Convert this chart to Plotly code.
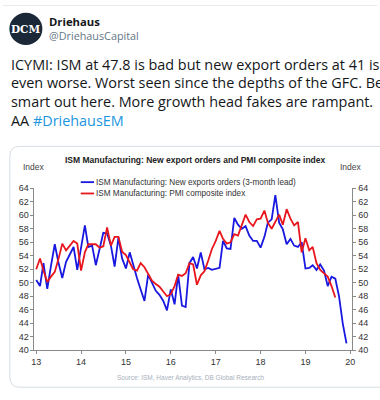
import plotly.graph_objects as go
import pandas as pd

W, H = 380, 400

# ---- data ----
months = pd.date_range("2013-01-01", periods=84, freq="MS")

export_orders_lead3 = [
    50.4, 49.5, 52.9, 49.1, 52.5, 55.7, 53.0, 50.7, 53.1, 54.2, 55.3, 51.9,
    55.2, 58.5, 55.3, 55.5, 52.6, 55.0, 57.4, 57.3, 55.5, 52.4, 56.7, 53.6,
    52.1, 54.5, 52.6, 50.7, 49.0, 47.3, 51.2, 50.0, 48.8, 48.2, 47.3, 45.9,
    49.0, 46.8, 51.2, 46.6, 46.4, 52.9, 53.8, 52.1, 54.5, 52.0, 52.2, 51.9,
    52.1, 52.2, 56.2, 55.1, 55.0, 59.6, 58.6, 58.0, 58.4, 57.0, 56.2, 56.2,
    55.2, 56.8, 58.9, 59.4, 63.0, 58.9, 57.9, 55.7, 56.5, 55.5, 55.3, 56.0,
    52.1, 52.2, 52.6, 51.9, 52.7, 51.8, 49.5, 50.9, 50.6, 48.0, 43.9, 41.0,
]

pmi_composite = [
    52.0, 53.6, 51.8, 50.1, 50.9, 51.6, 53.5, 55.8, 54.8, 55.5, 56.2, 55.8,
    51.8, 54.5, 55.7, 55.7, 55.7, 55.2, 55.4, 58.2, 55.5, 56.8, 56.8, 54.6,
    54.1, 53.0, 52.0, 51.8, 52.9, 52.3, 51.4, 50.3, 49.8, 49.4, 48.7, 48.0,
    48.3, 49.5, 51.2, 51.0, 51.4, 52.9, 52.7, 49.7, 51.1, 51.7, 53.3, 55.0,
    56.2, 57.7, 56.5, 55.8, 56.0, 57.2, 57.0, 58.6, 60.1, 59.0, 58.4, 59.4,
    59.5, 60.7, 58.9, 58.0, 59.0, 60.1, 58.6, 60.9, 59.5, 58.5, 59.0, 54.5,
    56.6, 54.8, 55.3, 52.9, 51.9, 51.4, 50.9, 49.5, 47.8,
]

year_ticks = pd.date_range("2013-01-01", periods=8, freq="YS")
year_labels = ["13", "14", "15", "16", "17", "18", "19", "20"]

series_names = [
    "ISM Manufacturing: New exports orders (3-month lead)",
    "ISM Manufacturing: PMI composite index",
]
BLUE = "#1818e0"
RED = "#e8161c"

tweet_lines = [
    "ICYMI: ISM at 47.8 is bad but new export orders at 41 is",
    "even worse. Worst seen since the depths of the GFC. Be",
    "smart out here. More growth head fakes are rampant.",
]

def px(x):
    return x / W

def py(y):
    return 1 - y / H

fig = go.Figure()
fig.add_trace(go.Scatter(x=months, y=export_orders_lead3, mode="lines",
                         line=dict(color=BLUE, width=1.8), yaxis="y",
                         name=series_names[0], showlegend=False))
fig.add_trace(go.Scatter(x=months[:len(pmi_composite)], y=pmi_composite, mode="lines",
                         line=dict(color=RED, width=1.8), yaxis="y2",
                         name=series_names[1], showlegend=False))

axis_font = dict(family="Liberation Sans, Arial", size=9, color="#333")
fig.update_layout(
    width=W, height=H,
    margin=dict(l=0, r=0, t=0, b=0),
    paper_bgcolor="white", plot_bgcolor="white",
    xaxis=dict(domain=[px(32), px(355)], type="date",
               range=["2012-12-18", "2020-01-18"],
               tickvals=year_ticks, ticktext=year_labels,
               showgrid=False, zeroline=False, showline=True, linecolor="#8a8a8a",
               linewidth=1, ticks="outside", ticklen=3, tickcolor="#8a8a8a",
               tickfont=axis_font, anchor="y"),
    yaxis=dict(domain=[py(354), py(188)], range=[40, 64], dtick=2,
               showgrid=False, zeroline=False, showline=True, linecolor="#8a8a8a",
               ticks="outside", ticklen=3, tickcolor="#8a8a8a", tickfont=axis_font),
    yaxis2=dict(domain=[py(354), py(188)], range=[40, 64], dtick=2, overlaying="y",
                side="right", anchor="x",
                showgrid=False, zeroline=False, showline=True, linecolor="#8a8a8a",
                ticks="outside", ticklen=3, tickcolor="#8a8a8a", tickfont=axis_font),
    showlegend=False,
)

shapes = []
# top divider
shapes.append(dict(type="line", xref="paper", yref="paper", x0=0, x1=1,
                   y0=py(0.5), y1=py(0.5), line=dict(color="#e6ecf0", width=1)))
# avatar
shapes.append(dict(type="circle", xref="paper", yref="paper",
                   x0=px(6.5), x1=px(40), y0=py(41), y1=py(8),
                   fillcolor="#1b2838", line=dict(width=0)))
# chart card with rounded corners
r = 10
x0c, y0c, x1c, y1c = 7, 145, 392, 392
path = (f"M {px(x0c+r)},{py(y0c)} L {px(x1c-r)},{py(y0c)} "
        f"Q {px(x1c)},{py(y0c)} {px(x1c)},{py(y0c+r)} L {px(x1c)},{py(y1c-r)} "
        f"Q {px(x1c)},{py(y1c)} {px(x1c-r)},{py(y1c)} L {px(x0c+r)},{py(y1c)} "
        f"Q {px(x0c)},{py(y1c)} {px(x0c)},{py(y1c-r)} L {px(x0c)},{py(y0c+r)} "
        f"Q {px(x0c)},{py(y0c)} {px(x0c+r)},{py(y0c)} Z")
shapes.append(dict(type="path", xref="paper", yref="paper", path=path,
                   line=dict(color="#d6dde3", width=1), layer="below"))
# legend keys
for yk, col in [(181.7, BLUE), (193.3, RED)]:
    shapes.append(dict(type="line", xref="paper", yref="paper",
                       x0=px(79), x1=px(92.5), y0=py(yk), y1=py(yk),
                       line=dict(color=col, width=1.8)))
fig.update_layout(shapes=shapes)

ann = []
def A(text, x, y, size, color="#333", family="Liberation Sans, Arial", xanchor="left", bold=False):
    if bold:
        text = f"<b>{text}</b>"
    ann.append(dict(text=text, x=px(x), y=py(y), xref="paper", yref="paper",
                    xanchor=xanchor, yanchor="middle", showarrow=False, borderpad=0,
                    font=dict(size=size, color=color, family=family)))

A("DCM", 23.3, 24.5, 10.5, color="white", family="DejaVu Serif", xanchor="center", bold=True)
A("Driehaus", 46, 16.5, 11.3, color="#14171a", family="Open Sans", bold=True)
A("@DriehausCapital", 46, 31.5, 10.8, color="#657786", family="Open Sans")
for i, line in enumerate(tweet_lines):
    A(line, 7, 61 + i * 19, 14.4, color="#14171a", family="Open Sans")
ann.append(dict(text="AA <span style='color:#1b95e0'>#DriehausEM</span>",
                x=px(7), y=py(118), xref="paper", yref="paper", xanchor="left",
                yanchor="middle", showarrow=False, borderpad=0,
                font=dict(size=14.4, color="#14171a", family="Open Sans")))

A("ISM Manufacturing: New export orders and PMI composite index", 196, 159, 8.5,
  color="#222", xanchor="center", bold=True)
A("Index", 32, 166, 8.5, color="#444", xanchor="center")
A("Index", 354, 166, 8.5, color="#444", xanchor="center")
A(series_names[0], 93, 181.7, 8.2, color="#333")
A(series_names[1], 93, 193.3, 8.2, color="#333")
A("Source: ISM, Haver Analytics, DB Global Research", 190, 383, 6.5,
  color="#a8b0bc", xanchor="center")
fig.update_layout(annotations=ann)

fig.write_html("out.html", config={"displayModeBar": False},
               post_script="document.body.style.margin='0';")
